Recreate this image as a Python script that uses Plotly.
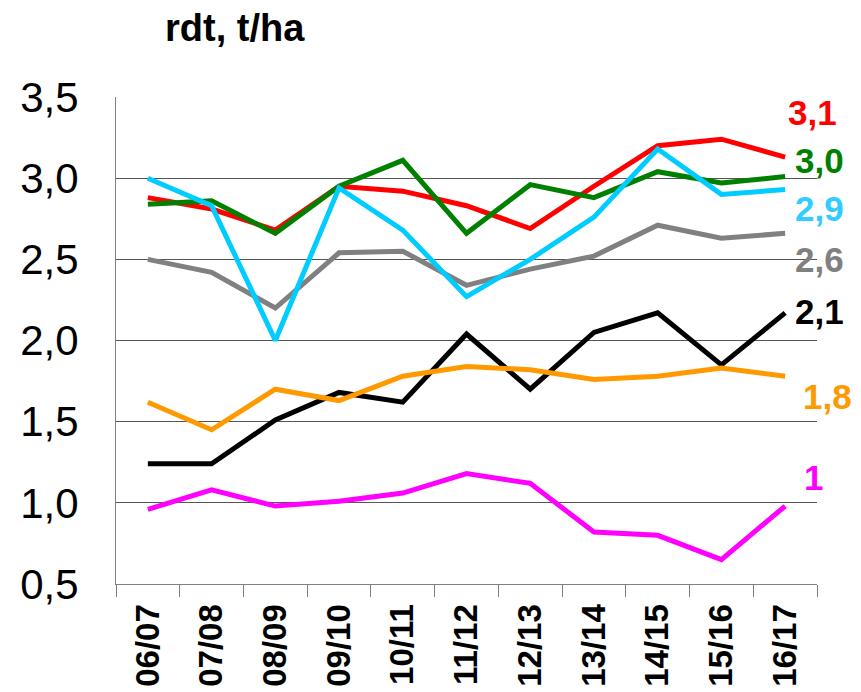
import plotly.graph_objects as go

seasons = ["06/07", "07/08", "08/09", "09/10", "10/11", "11/12",
           "12/13", "13/14", "14/15", "15/16", "16/17"]

s_red = [2.88, 2.81, 2.68, 2.95, 2.92, 2.83, 2.69, 2.95, 3.20, 3.24, 3.13]
s_green = [2.84, 2.86, 2.66, 2.95, 3.11, 2.66, 2.96, 2.88, 3.04, 2.97, 3.01]
s_cyan = [3.00, 2.83, 2.00, 2.94, 2.68, 2.27, 2.50, 2.76, 3.18, 2.90, 2.93]
s_gray = [2.50, 2.42, 2.20, 2.54, 2.55, 2.34, 2.44, 2.52, 2.71, 2.63, 2.66]
s_black = [1.24, 1.24, 1.51, 1.68, 1.62, 2.04, 1.70, 2.05, 2.17, 1.85, 2.17]
s_orange = [1.62, 1.45, 1.70, 1.63, 1.78, 1.84, 1.82, 1.76, 1.78, 1.83, 1.78]
s_magenta = [0.96, 1.08, 0.98, 1.01, 1.06, 1.18, 1.12, 0.82, 0.80, 0.65, 0.98]

end_labels = ["3,1", "3,0", "2,9", "2,6", "2,1", "1,8", "1"]
y_ticks = [0.5, 1.0, 1.5, 2.0, 2.5, 3.0, 3.5]
y_tick_text = ["0,5", "1,0", "1,5", "2,0", "2,5", "3,0", "3,5"]

FONT = "Liberation Sans, Arial, sans-serif"

series = [
    (s_magenta, "#FF00FF"),
    (s_black, "#000000"),
    (s_orange, "#FF9900"),
    (s_gray, "#808080"),
    (s_red, "#FF0000"),
    (s_green, "#008000"),
    (s_cyan, "#00CCFF"),
]

fig = go.Figure()
for vals, col in series:
    fig.add_trace(go.Scatter(x=seasons, y=vals, mode="lines",
                             line=dict(color=col, width=5),
                             showlegend=False, hoverinfo="skip"))

# end labels: (text, color, x paper, y data)
label_specs = [
    (end_labels[0], "#FF0000", 0.956, 3.403),
    (end_labels[1], "#008000", 0.966, 3.107),
    (end_labels[2], "#33CCFF", 0.966, 2.811),
    (end_labels[3], "#808080", 0.966, 2.497),
    (end_labels[4], "#000000", 0.966, 2.176),
    (end_labels[5], "#FF9900", 0.977, 1.658),
    (end_labels[6], "#FF00FF", 0.978, 1.159),
]
for txt, col, xp, yv in label_specs:
    fig.add_annotation(text=txt, x=xp, y=yv, xref="paper", yref="y",
                       xanchor="left", yanchor="middle", showarrow=False,
                       font=dict(family=FONT, size=35, color=col, weight="bold"))

fig.add_annotation(text="rdt, t/ha", x=0.17, y=1.1417, xref="paper", yref="paper",
                   xanchor="center", yanchor="middle", showarrow=False,
                   borderpad=0,
                   font=dict(family=FONT, size=38, color="#000000", weight="bold"))

fig.update_layout(
    width=861, height=692,
    margin=dict(l=108, r=52, t=89, b=116),
    paper_bgcolor="white", plot_bgcolor="white",
    font=dict(family=FONT, color="#000000"),
)
fig.update_xaxes(
    type="category", tickson="boundaries",
    ticks="outside", ticklen=12, tickcolor="#808080", tickwidth=1,
    showline=True, linecolor="#808080", linewidth=1,
    showgrid=False, tickangle=-90,
    tickfont=dict(family=FONT, size=33, color="#000000", weight="bold"),
    ticklabelstandoff=6,
    range=[-0.5, 10.5],
)
fig.update_yaxes(
    range=[0.5, 3.5], tickvals=y_ticks, ticktext=y_tick_text,
    ticks="inside", ticklen=14, tickcolor="#555555",
    showline=True, linecolor="#808080", linewidth=1,
    showgrid=True, gridcolor="#555555", gridwidth=1,
    zeroline=False,
    tickfont=dict(family=FONT, size=42, color="#000000"),
    ticklabelstandoff=28,
)

fig.write_html("out.html")
